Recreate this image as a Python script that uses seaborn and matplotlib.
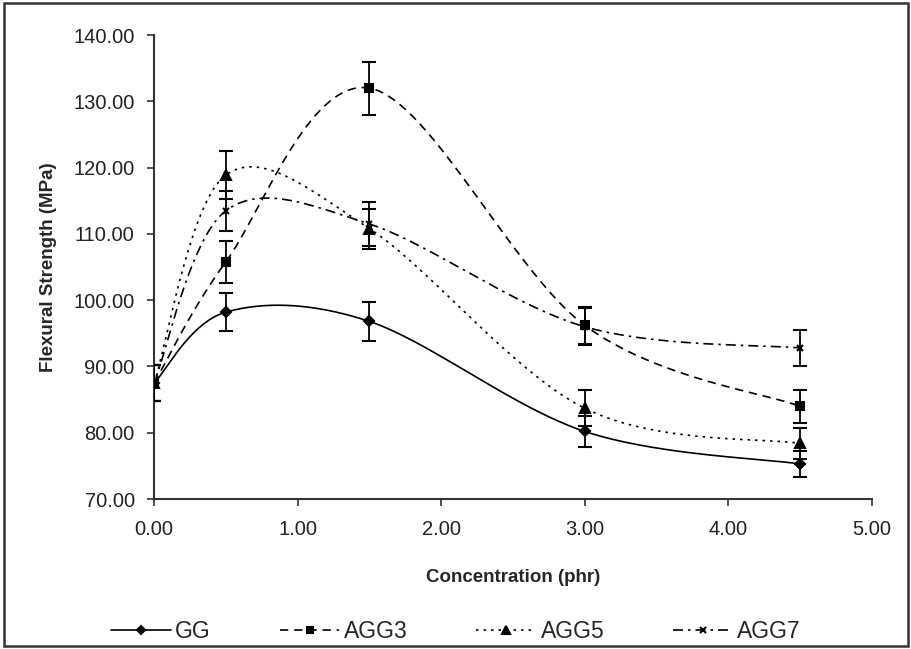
import matplotlib
matplotlib.use("Agg")
import matplotlib.pyplot as plt
from matplotlib.lines import Line2D
from matplotlib.patches import Rectangle
import numpy as np
import pandas as pd
import seaborn as sns

# data
concentration = [0.0, 0.5, 1.5, 3.0, 4.5]
series_names = ["GG", "AGG3", "AGG5", "AGG7"]
gg = [87.5, 98.2, 96.8, 80.2, 75.3]
agg3 = [87.5, 105.8, 132.0, 96.2, 84.0]
agg5 = [87.5, 118.9, 110.8, 83.7, 78.4]
agg7 = [87.5, 113.5, 111.5, 96.0, 92.8]
gg_err = [2.7, 2.9, 3.0, 2.3, 2.0]
agg3_err = [2.7, 3.2, 4.0, 2.8, 2.5]
agg5_err = [2.7, 3.6, 3.0, 2.7, 2.3]
agg7_err = [2.7, 3.0, 3.3, 2.8, 2.7]

sns.set_theme(style="white")
plt.rcParams["font.family"] = ["Liberation Sans", "DejaVu Sans"]


def smooth_curve(x, y, n=40):
    # Excel-style smoothed line: cubic Bezier segments, Catmull-Rom control points
    pts = np.column_stack([x, y]).astype(float)
    out = []
    for i in range(len(pts) - 1):
        p0 = pts[max(i - 1, 0)]
        p1 = pts[i]
        p2 = pts[i + 1]
        p3 = pts[min(i + 2, len(pts) - 1)]
        c1 = p1 + (p2 - p0) / 6.0
        c2 = p2 - (p3 - p1) / 6.0
        t = np.linspace(0, 1, n)[:, None]
        seg = ((1 - t) ** 3) * p1 + 3 * ((1 - t) ** 2) * t * c1 + 3 * (1 - t) * t ** 2 * c2 + t ** 3 * p2
        out.append(seg if i == 0 else seg[1:])
    seg = np.vstack(out)
    return seg[:, 0], seg[:, 1]


df = pd.DataFrame({
    "conc": concentration * 4,
    "strength": gg + agg3 + agg5 + agg7,
    "err": gg_err + agg3_err + agg5_err + agg7_err,
    "series": [s for s in series_names for _ in concentration],
})

styles = {
    "GG": dict(ls="-", marker="D", ms=5),
    "AGG3": dict(ls=(0, (5, 3.5)), marker="s", ms=5.5),
    "AGG5": dict(ls=(0, (1.5, 3)), marker="^", ms=6.5),
    "AGG7": dict(ls=(0, (6, 3, 1.5, 3)), marker="x", ms=5),
}

fig = plt.figure(figsize=(9.12, 6.49), dpi=100)
ax = fig.add_axes([0.169, 0.231, 0.787, 0.715])

handles = []
for name in series_names:
    sub = df[df["series"] == name]
    st = styles[name]
    xs, ys = smooth_curve(sub["conc"].values, sub["strength"].values)
    sns.lineplot(x=xs, y=ys, sort=False, estimator=None, color="black",
                 linewidth=1.2, linestyle=st["ls"], ax=ax)
    ax.errorbar(sub["conc"], sub["strength"], yerr=sub["err"], fmt=st["marker"],
                color="black", ms=st["ms"], mew=1.5, elinewidth=1.3,
                capsize=5, capthick=1.3, zorder=3)
    handles.append(Line2D([], [], color="black", linewidth=1.2, linestyle=st["ls"],
                          marker=st["marker"], ms=st["ms"] - 0.5, mew=1.5, label=name))

ax.set_xlim(0, 5)
ax.set_ylim(70, 140)
ax.set_xticks(np.arange(0, 5.01, 1))
ax.set_yticks(np.arange(70, 140.01, 10))
ax.xaxis.set_major_formatter(matplotlib.ticker.FormatStrFormatter("%.2f"))
ax.yaxis.set_major_formatter(matplotlib.ticker.FormatStrFormatter("%.2f"))
ax.tick_params(axis="both", direction="out", length=5, width=1.2, color="#333333",
               labelsize=14.5, labelcolor="#222222", bottom=True, left=True, pad=9)
ax.tick_params(axis="x", pad=10)
for side in ["top", "right"]:
    ax.spines[side].set_visible(False)
for side in ["left", "bottom"]:
    ax.spines[side].set_color("#333333")
    ax.spines[side].set_linewidth(1.5)

ax.set_xlabel("Concentration (phr)", fontsize=13.5, fontweight="bold", labelpad=22)
ax.set_ylabel("Flexural Strength (MPa)", fontsize=13.5, fontweight="bold", labelpad=12)

fig.legend(handles=handles, loc="lower center", bbox_to_anchor=(0.5, -0.022), ncol=4,
           frameon=False, fontsize=16.5, handlelength=2.6, handletextpad=0.2,
           columnspacing=3.0)

fig.patches.append(Rectangle((0.004, 0.004), 0.992, 0.992, transform=fig.transFigure,
                             fill=False, edgecolor="#333333", linewidth=1.8))

plt.savefig("out.png", dpi=100)
